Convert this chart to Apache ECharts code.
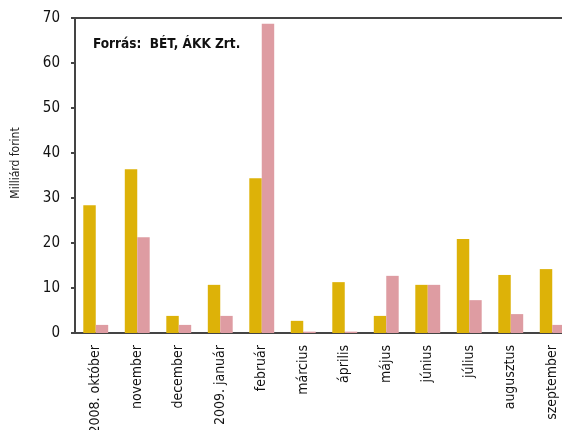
<!DOCTYPE html>
<html>
<head>
<meta charset="utf-8">
<script src="https://cdn.jsdelivr.net/npm/echarts@6/dist/echarts.min.js"></script>
<style>
  html, body { margin: 0; padding: 0; background: #fff; }
  #chart { width: 562px; height: 430px; }
</style>
</head>
<body>
<div id="chart"></div>
<script>
const months = ['2008. október', 'november', 'december', '2009. január', 'február', 'március',
    'április', 'május', 'június', 'július', 'augusztus', 'szeptember'];
const seriesA = [28.4, 36.4, 3.8, 10.7, 34.4, 2.7, 11.3, 3.8, 10.7, 20.9, 12.9, 14.2];
const seriesB = [1.8, 21.3, 1.8, 3.8, 68.7, 0.3, 0.3, 12.7, 10.7, 7.3, 4.2, 1.8];
const yTicks = [0, 10, 20, 30, 40, 50, 60, 70];

const font = '"DejaVu Sans Condensed", sans-serif';

const chart = echarts.init(document.getElementById('chart'));

const option = {
    animation: false,
    textStyle: { fontFamily: font },
    title: {
        text: 'Forrás:  BÉT, ÁKK Zrt.',
        left: 88,
        top: 32,
        textStyle: { fontFamily: font, fontSize: 13.5, fontWeight: 'bold', color: '#111' }
    },
    grid: { left: 75, top: 18, width: 498, bottom: 97, outerBoundsMode: 'none', containLabel: false },
    xAxis: [{
        type: 'category',
        data: months,
        axisLine: { lineStyle: { color: '#444', width: 2 } },
        axisTick: { show: false },
        axisLabel: {
            rotate: 90,
            interval: 0,
            margin: 12,
            fontSize: 14,
            color: '#111',
            fontFamily: font
        }
    }, {
        type: 'category',
        data: months,
        position: 'top',
        axisLine: { lineStyle: { color: '#444', width: 2 } },
        axisTick: { show: false },
        axisLabel: { show: false }
    }],
    yAxis: {
        type: 'value',
        min: yTicks[0],
        max: yTicks[yTicks.length - 1],
        interval: 10,
        name: 'Milliárd forint',
        nameLocation: 'middle',
        nameGap: 53,
        nameTextStyle: { fontSize: 12, color: '#222', fontFamily: font, padding: [0, 0, 0, 25] },
        axisLine: { show: true, lineStyle: { color: '#444', width: 2 } },
        axisTick: { show: true, length: 4, inside: false, lineStyle: { color: '#444', width: 2 } },
        axisLabel: { fontSize: 15, color: '#111', margin: 15, fontFamily: font },
        splitLine: { show: false }
    },
    series: [{
        type: 'bar',
        data: seriesA,
        barGap: '0%',
        barCategoryGap: '40%',
        itemStyle: { color: '#DDB208' }
    }, {
        type: 'bar',
        data: seriesB,
        barGap: '0%',
        barCategoryGap: '40%',
        itemStyle: { color: '#DE9CA2' }
    }]
};

chart.setOption(option);
</script>
</body>
</html>
